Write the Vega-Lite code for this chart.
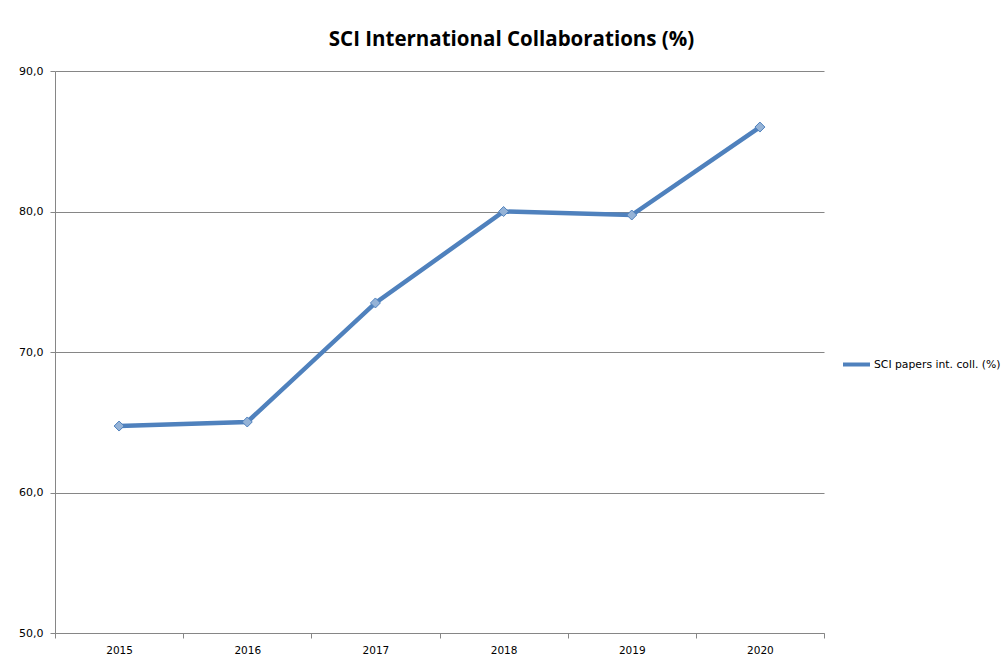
{
  "$schema": "https://vega.github.io/schema/vega-lite/v6.json",
  "width": 769,
  "height": 562,
  "autosize": {"type": "none"},
  "padding": {"left": 55, "top": 71, "right": 178, "bottom": 31},
  "background": "white",
  "config": {"view": {"stroke": null}},
  "title": {
    "text": "SCI International Collaborations (%)",
    "font": "Open Sans",
    "fontSize": 20.5,
    "fontWeight": "bold",
    "color": "black",
    "anchor": "middle",
    "dx": 72,
    "offset": 15
  },
  "data": {
    "values": [
      {"year": "2015", "series": "SCI papers int. coll. (%)", "value": 64.73},
      {"year": "2016", "series": "SCI papers int. coll. (%)", "value": 65.02},
      {"year": "2017", "series": "SCI papers int. coll. (%)", "value": 73.49},
      {"year": "2018", "series": "SCI papers int. coll. (%)", "value": 80.0},
      {"year": "2019", "series": "SCI papers int. coll. (%)", "value": 79.75},
      {"year": "2020", "series": "SCI papers int. coll. (%)", "value": 86.01}
    ]
  },
  "mark": {
    "type": "line",
    "strokeWidth": 4.5,
    "point": {"shape": "diamond", "size": 100, "filled": true, "fill": "#95b3d7", "stroke": "#4f81bd", "strokeWidth": 1}
  },
  "encoding": {
    "x": {
      "field": "year",
      "type": "ordinal",
      "bandPosition": 0.5,
      "scale": {"type": "band", "paddingInner": 0, "paddingOuter": 0},
      "axis": {
        "title": null,
        "tickBand": "extent",
        "labelAngle": 0,
        "labelFont": "DejaVu Sans",
        "labelFontSize": 10.5,
        "labelColor": "black",
        "labelPadding": 7,
        "domainColor": "#868686",
        "tickColor": "#868686",
        "tickSize": 5,
        "grid": false
      }
    },
    "y": {
      "field": "value",
      "type": "quantitative",
      "scale": {"domain": [50, 90], "nice": false, "zero": false},
      "axis": {
        "title": null,
        "values": [50, 60, 70, 80, 90],
        "labelExpr": "replace(format(datum.value, '.1f'), '.', ',')",
        "labelFont": "DejaVu Sans",
        "labelFontSize": 11,
        "labelColor": "black",
        "labelPadding": 7,
        "domainColor": "#868686",
        "tickColor": "#868686",
        "tickSize": 5,
        "grid": true,
        "gridColor": "#868686"
      }
    },
    "color": {
      "field": "series",
      "type": "nominal",
      "scale": {"range": ["#4f81bd"]},
      "legend": {
        "title": null,
        "orient": "none",
        "legendX": 786,
        "legendY": 278,
        "symbolType": "stroke",
        "symbolSize": 729,
        "symbolStrokeWidth": 4,
        "labelFont": "DejaVu Sans",
        "labelFontSize": 10.8,
        "labelColor": "black",
        "labelOffset": 2
      }
    }
  }
}
